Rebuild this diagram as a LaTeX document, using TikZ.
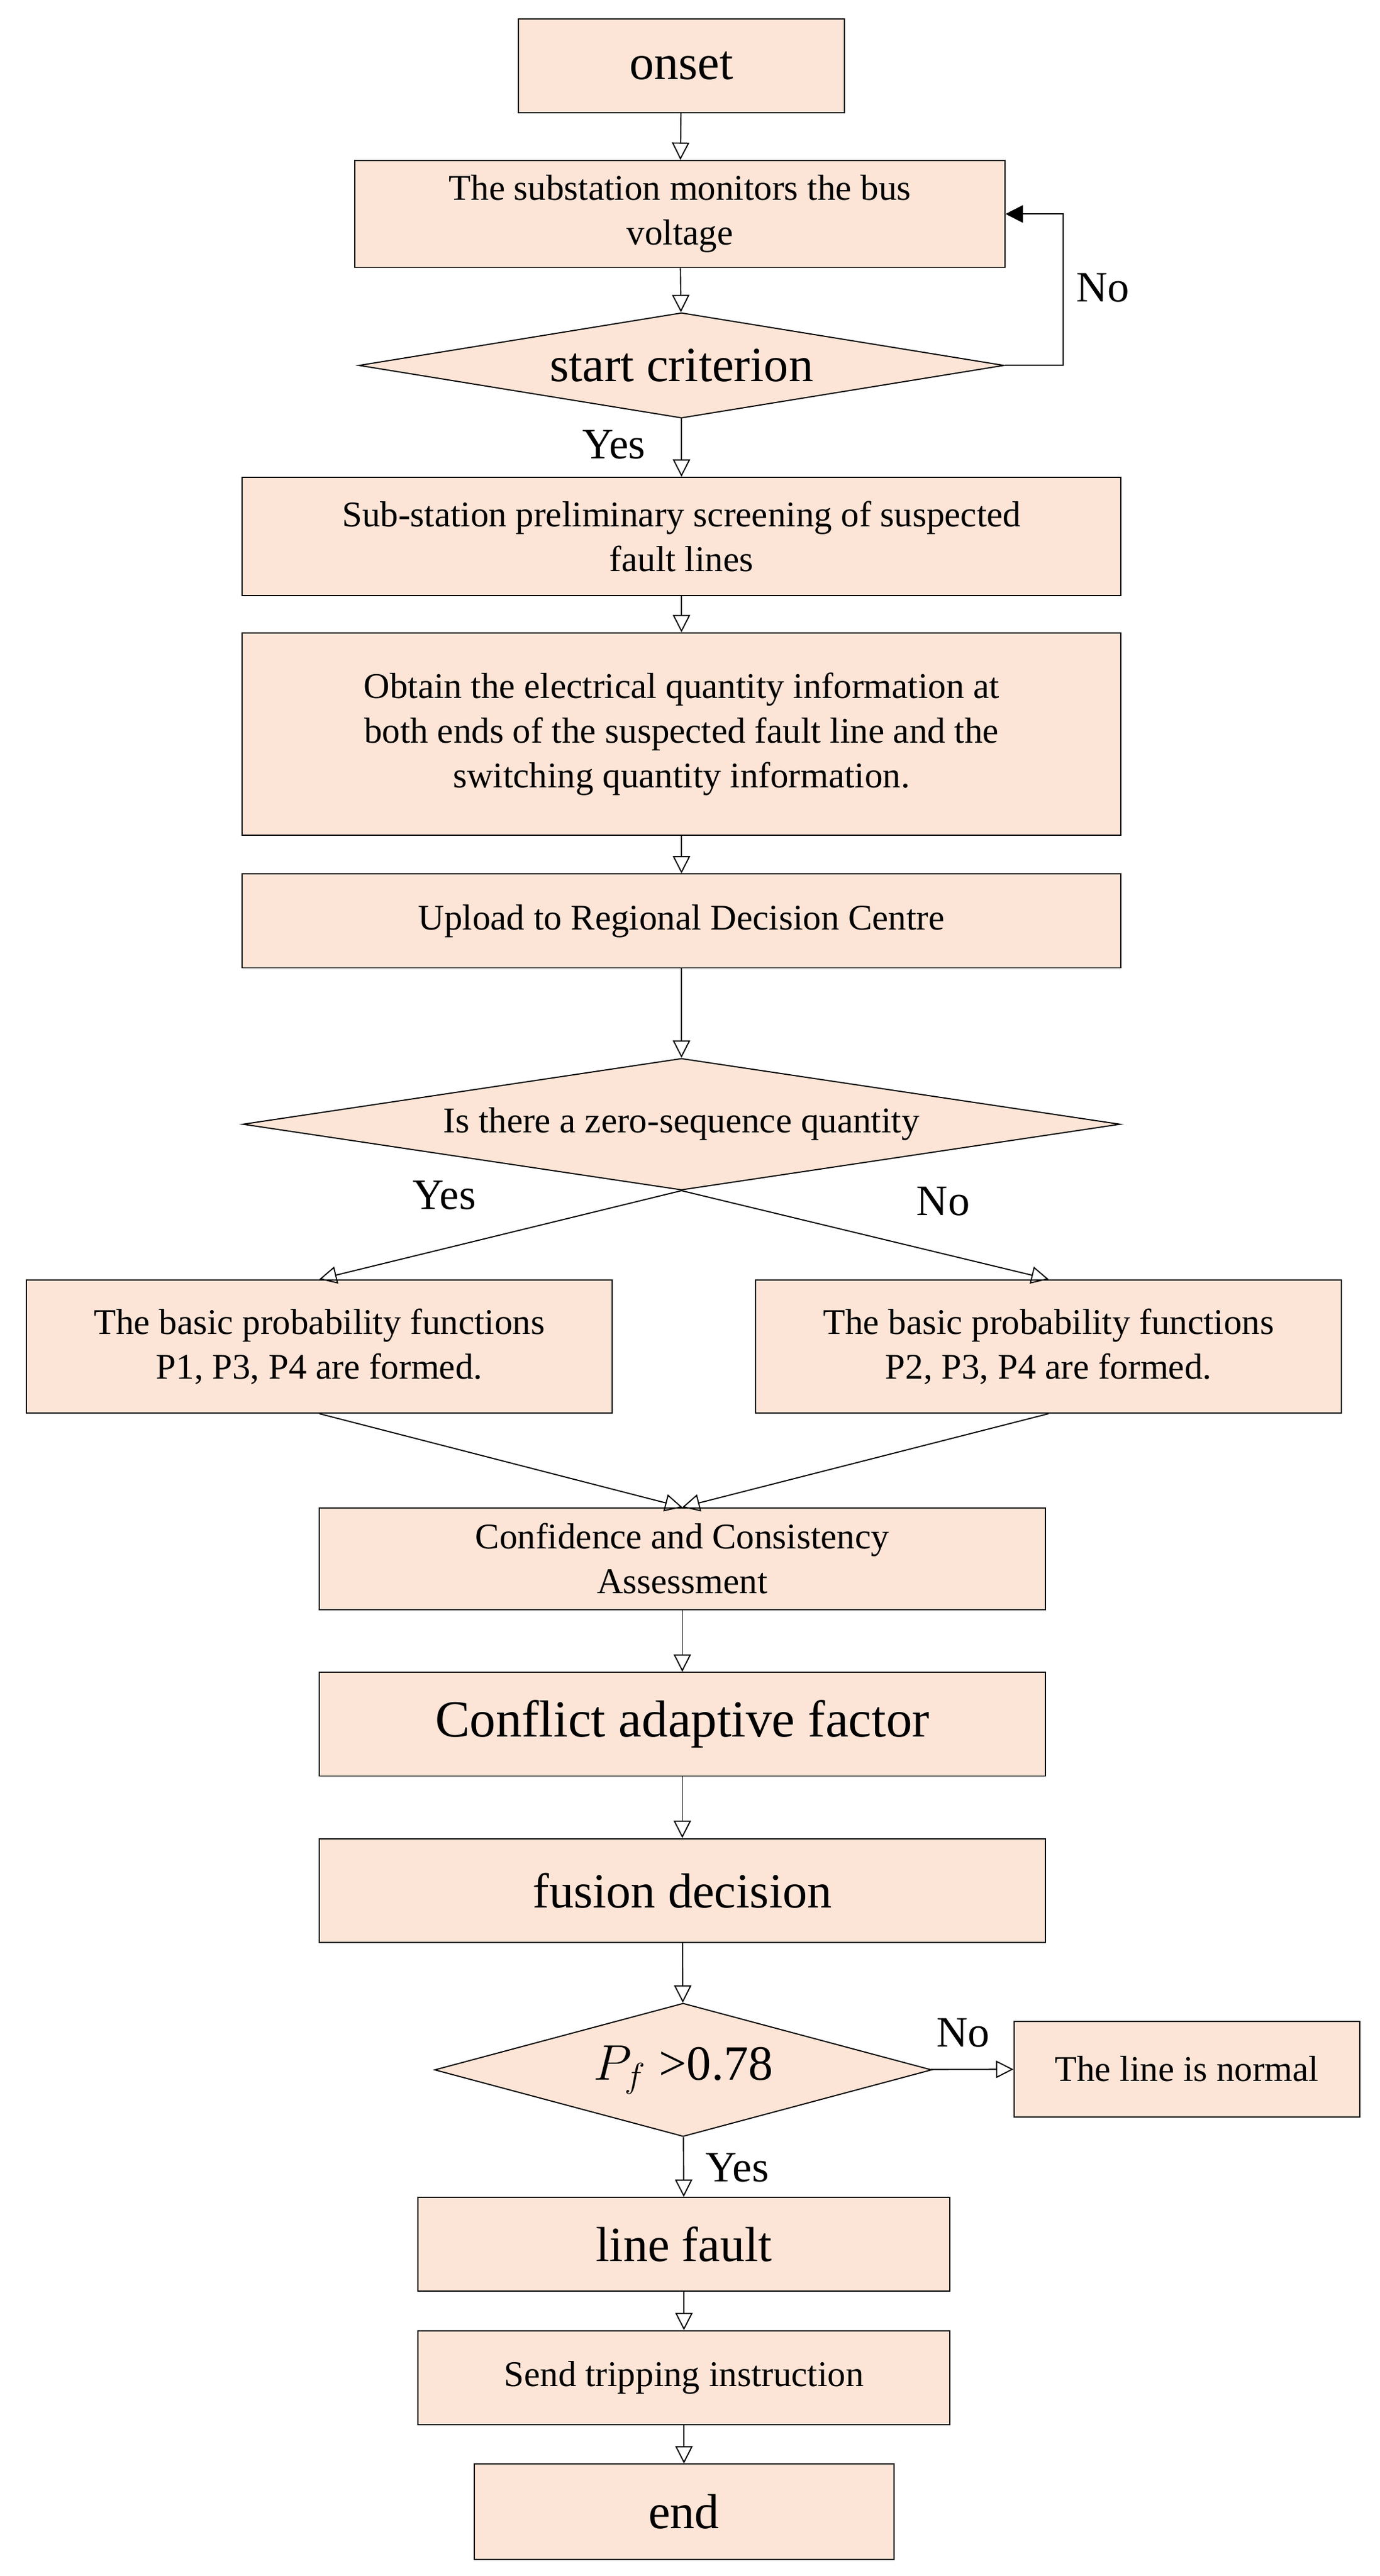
\documentclass[tikz,border=0pt]{standalone}
\usepackage{fontspec}
\setmainfont{Liberation Serif}
\usetikzlibrary{arrows.meta, positioning, shapes.geometric}
\definecolor{peach}{HTML}{FCE4D6}
\begin{document}
\begin{tikzpicture}[
		box/.style={draw, fill=peach, align=center, inner sep=2pt, font=\fontsize{12.5}{15.5}\selectfont},
		big/.style={font=\fontsize{17}{20}\selectfont},
		dia/.style={draw, fill=peach, diamond, inner sep=0pt, align=center},
		arrow/.style={-{Triangle[open, length=6pt, width=6pt]}},
		lbl/.style={font=\fontsize{15}{18}\selectfont}
	]
	\useasboundingbox (0,0) rectangle (16.76,-31.3);
	
		% Nodes
		\node[box, big, minimum width=3.96cm, minimum height=1.14cm] (onset) at (8.28,-0.80) {onset};
		\node[box, minimum width=7.9cm, minimum height=1.3cm] (monitor) at (8.26,-2.60) {The substation monitors the bus\\voltage};
		\node[dia, big, minimum width=7.84cm, minimum height=1.28cm, aspect=6.1] (start) at (8.28,-4.44) {start criterion};
		\node[box, minimum width=10.68cm, minimum height=1.44cm] (screen) at (8.28,-6.52) {Sub-station preliminary screening of suspected\\fault lines};
		\node[box, minimum width=10.68cm, minimum height=2.46cm] (obtain) at (8.28,-8.92) {Obtain the electrical quantity information at\\both ends of the suspected fault line and the\\switching quantity information.};
		\node[box, minimum width=10.68cm, minimum height=1.14cm] (upload) at (8.28,-11.19) {Upload to Regional Decision Centre};
		\node[dia, font=\fontsize{12.5}{15}\selectfont, minimum width=10.66cm, minimum height=1.6cm, aspect=6.6] (zero) at (8.28,-13.66) {Is there a zero-sequence quantity};
		\node[box, minimum width=7.12cm, minimum height=1.62cm] (left) at (3.88,-16.36) {The basic probability functions\\P1, P3, P4 are formed.};
		\node[box, minimum width=7.12cm, minimum height=1.62cm] (right) at (12.74,-16.36) {The basic probability functions\\P2, P3, P4 are formed.};
		\node[box, minimum width=8.82cm, minimum height=1.24cm] (conf) at (8.29,-18.94) {Confidence and Consistency\\Assessment};
		\node[box, font=\fontsize{18}{21}\selectfont, minimum width=8.82cm, minimum height=1.26cm] (conflict) at (8.29,-20.95) {Conflict adaptive factor};
		\node[box, big, minimum width=8.82cm, minimum height=1.26cm] (fusion) at (8.29,-22.97) {fusion decision};
		\node[dia, big, minimum width=6.04cm, minimum height=1.62cm, aspect=3.7] (pf) at (8.30,-25.15) {$P_f$ >0.78};
		\node[box, minimum width=4.2cm, minimum height=1.16cm] (normal) at (14.42,-25.14) {The line is normal};
		\node[box, big, minimum width=6.46cm, minimum height=1.14cm] (fault) at (8.31,-27.27) {line fault};
		\node[box, minimum width=6.46cm, minimum height=1.14cm] (send) at (8.31,-28.89) {Send tripping instruction};
		\node[box, big, minimum width=5.1cm, minimum height=1.16cm] (end) at (8.31,-30.52) {end};
		\coordinate (loop) at (12.92,-4.44);
		
		% Arrows
		\draw[arrow] (onset) -- (monitor);
		\draw[arrow] (monitor) -- (start);
		\draw[-{Triangle[length=6pt, width=6pt]}] (start.east) -- (loop) |- (monitor.east);
		\node[lbl] (no1) at (13.4,-3.5) {No};
		\draw[arrow] (start) -- (screen);
		\node[lbl] (yes1) at (7.46,-5.40) {Yes};
		\draw[arrow] (screen) -- (obtain);
		\draw[arrow] (obtain) -- (upload);
		\draw[arrow] (upload) -- (zero);
		\draw[arrow] (zero.south) -- (left.north);
		\draw[arrow] (zero.south) -- (right.north);
		\node[lbl] (yes2) at (5.40,-14.52) {Yes};
		\node[lbl] (no2) at (11.46,-14.60) {No};
		\draw[arrow] (left.south) -- (conf.north);
		\draw[arrow] (right.south) -- (conf.north);
		\draw[arrow] (conf) -- (conflict);
		\draw[arrow] (conflict) -- (fusion);
		\draw[arrow] (fusion) -- (pf);
		\draw[arrow] (pf) -- (normal);
		\node[lbl] (no3) at (11.70,-24.70) {No};
		\draw[arrow] (pf) -- (fault);
		\node[lbl] (yes3) at (8.96,-26.34) {Yes};
		\draw[arrow] (fault) -- (send);
		\draw[arrow] (send) -- (end);
		
	\end{tikzpicture}
\end{document}
